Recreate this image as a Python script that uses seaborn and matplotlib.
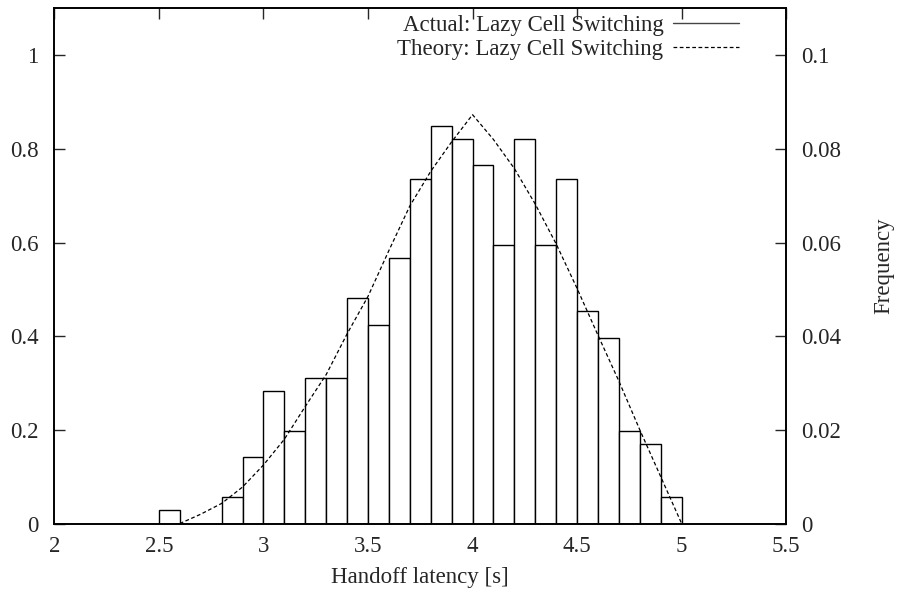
import numpy as np
import pandas as pd
import matplotlib
matplotlib.use('Agg')
import matplotlib.pyplot as plt
from matplotlib.lines import Line2D
from matplotlib.ticker import FormatStrFormatter
import seaborn as sns

# measured handoff latencies, binned at 0.1 s (left edge of each bin + sample count)
bin_left = [2.5, 2.6, 2.7, 2.8, 2.9, 3.0, 3.1, 3.2, 3.3, 3.4, 3.5, 3.6, 3.7,
            3.8, 3.9, 4.0, 4.1, 4.2, 4.3, 4.4, 4.5, 4.6, 4.7, 4.8, 4.9]
bin_count = [1, 0, 0, 2, 5, 10, 7, 11, 11, 17, 15, 20, 26,
             30, 29, 27, 21, 29, 21, 26, 16, 14, 7, 6, 2]
bin_width = 0.1

# theoretical density curve
theory_x = [2.6, 2.7, 2.8, 2.9, 3.0, 3.1, 3.2, 3.3, 3.4, 3.5, 3.6, 3.7, 3.8,
            3.9, 4.0, 4.1, 4.2, 4.3, 4.4, 4.5, 4.6, 4.7, 4.8, 4.9, 5.0]
theory_y = [0.0, 0.02, 0.043, 0.078, 0.125, 0.18, 0.25, 0.318, 0.405, 0.485,
            0.583, 0.678, 0.752, 0.815, 0.873, 0.82, 0.758, 0.682, 0.597,
            0.502, 0.402, 0.304, 0.2, 0.1, 0.0]

n_total = sum(bin_count)
hist = pd.DataFrame({
    'center': np.array(bin_left) + bin_width / 2,
    'density': np.array(bin_count) / (n_total * bin_width),
})

FS = 16.5

sns.set_style('white')
plt.rcParams['font.family'] = ['Liberation Serif', 'DejaVu Serif']
plt.rcParams['font.size'] = FS

fig = plt.figure(figsize=(8.98, 5.97), dpi=100)
ax = fig.add_axes([0.0605, 0.123, 0.815, 0.863])

sns.histplot(data=hist, x='center', weights='density', binwidth=bin_width,
             binrange=(bin_left[0], bin_left[-1] + bin_width), stat='count',
             color='white', edgecolor='black', linewidth=1.0, alpha=1, ax=ax)
sns.lineplot(x=theory_x, y=theory_y, color='black', linestyle=(0, (3, 2)),
             linewidth=0.9, ax=ax)

ax.set_xlim(2, 5.5)
ax.set_ylim(0, 1.1)
ax.set_xticks(np.arange(2, 5.51, 0.5))
ax.set_yticks(np.arange(0, 1.01, 0.2))
ax.xaxis.set_major_formatter(FormatStrFormatter('%g'))
ax.yaxis.set_major_formatter(FormatStrFormatter('%g'))
ax.set_xlabel('Handoff latency [s]', labelpad=7, fontsize=FS)
ax.set_ylabel('')
ax.tick_params(direction='in', length=8, width=1, top=True, right=False,
               labelsize=FS)
ax.tick_params(axis='x', pad=9)
ax.tick_params(axis='y', pad=11.5)
for sp in ax.spines.values():
    sp.set_color('black')
    sp.set_linewidth(1.2)

ax2 = ax.twinx()
ax2.set_ylim(0, 0.11)
ax2.set_yticks(np.arange(0, 0.101, 0.02))
ax2.yaxis.set_major_formatter(FormatStrFormatter('%g'))
ax2.tick_params(direction='in', length=8, width=1, pad=11, labelsize=FS)
ax2.set_ylabel('Frequency', labelpad=23, fontsize=FS)
for sp in ax2.spines.values():
    sp.set_color('black')
    sp.set_linewidth(1.2)

handles = [Line2D([], [], color='#444444', linewidth=1.0),
           Line2D([], [], color='black', linewidth=0.9, linestyle=(0, (3, 2)))]
labels = ['Actual: Lazy Cell Switching', 'Theory: Lazy Cell Switching']
ax2.legend(handles, labels, loc='upper right', markerfirst=False, frameon=False,
           handlelength=2.9, handletextpad=0.4, labelspacing=0.15, fontsize=FS,
           borderaxespad=0.0, bbox_to_anchor=(0.948, 1.005))

fig.savefig('out.png', dpi=100)
